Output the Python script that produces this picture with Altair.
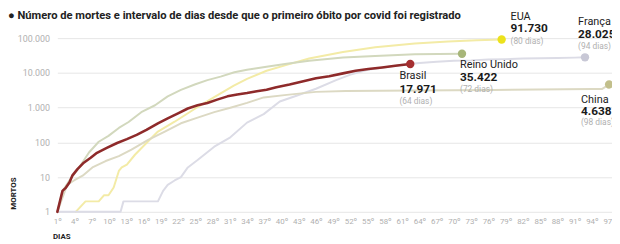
import altair as alt
import pandas as pd

# ---------------- data ----------------
paises = ["Brasil", "EUA", "Reino Unido", "França", "China"]
valores_rotulo = ["17.971", "91.730", "35.422", "28.025", "4.638"]
dias_rotulo = ["(64 dias)", "(80 dias)", "(72 dias)", "(94 dias)", "(98 dias)"]

brasil_dias = [1, 1.9, 2.5, 3.1, 3.6, 4.5, 5.6, 6.8, 7.9, 9.6, 11.4, 13.1, 14.8, 16.5, 18.5,
               20.2, 22, 23.7, 25.4, 27.1, 28.8, 30.6, 32.3, 34, 35.7, 37.4, 39.1, 41.4, 43.8,
               46, 48.3, 50.7, 52.9, 55.1, 57.5, 59.8, 62.4]
brasil_mortes = [1, 4, 5, 7, 11, 17, 26, 36, 50, 69, 96, 124, 164, 228, 353,
                 490, 680, 943, 1170, 1360, 1700, 2110, 2400, 2620, 2980, 3270, 3870, 4620, 5740,
                 6980, 7960, 9680, 11560, 12910, 14330, 16030, 17971]

eua_dias = [4.2, 5.9, 8.2, 9.1, 9.9, 10.8, 11.7, 12.2, 13.1, 14.5, 16.2, 18.5, 21.4, 24.8,
            28.3, 31.7, 34, 37.4, 40.9, 44.8, 50.7, 56.3, 63.2, 69, 74, 78.3]
eua_mortes = [1, 2, 2, 3, 3, 5, 15, 19, 23, 44, 85, 205, 393, 900,
              2000, 4300, 6700, 11500, 17000, 26000, 40000, 55000, 70000, 80000, 87000, 91730]

uk_dias = [1, 1.9, 3.1, 4.8, 6.5, 8.2, 9.9, 11.7, 13.4, 15.6, 18, 20.2, 22.5, 24.9, 27.1,
           29.4, 31.8, 34, 37.4, 40.9, 44.8, 50.7, 56.3, 63.2, 71.4]
uk_mortes = [1, 4, 8, 19, 51, 104, 154, 260, 385, 740, 1170, 2110, 3230, 4620, 6200,
             7800, 10470, 12330, 15000, 18250, 22200, 27900, 30800, 34400, 35422]

franca_dias = [1, 12, 12.5, 18.5, 19.4, 20.2, 21.4, 22.5, 23.7, 25.4, 28.3, 31.1, 34, 36.9,
               39.7, 42.6, 46, 49.5, 52, 55, 58, 61, 64, 67, 70, 73, 76, 79, 82, 85, 88, 91, 92.8]
franca_mortes = [1, 1, 2, 2, 4, 6, 8, 10, 19, 31, 75, 140, 370, 650,
                 1500, 2200, 3500, 6200, 8900, 12200, 14400, 17200, 19300, 20800, 22200, 22900,
                 24400, 24900, 25800, 26300, 27000, 27500, 28025]

china_dias = [1, 2.7, 3.9, 5.4, 7.1, 9.4, 11.7, 13.9, 16.8, 19.7, 22.5, 25.4, 28.3, 31.1, 34,
              36.9, 40.9, 46, 51.2, 63.2, 76.9, 94.1, 95.8, 97]
china_mortes = [1, 6, 8, 11, 19, 29, 40, 62, 118, 204, 354, 517, 740, 996, 1370,
                1970, 2330, 2840, 3000, 3130, 3230, 3420, 3450, 4638]

dias_eixo = list(range(1, 98, 3))
mortes_eixo = [1, 10, 100, 1000, 10000, 100000]

titulo = "● Número de mortes e intervalo de dias desde que o primeiro óbito por covid foi registrado"

# ---------------- tables ----------------
series = {
    "Brasil": (brasil_dias, brasil_mortes),
    "EUA": (eua_dias, eua_mortes),
    "Reino Unido": (uk_dias, uk_mortes),
    "França": (franca_dias, franca_mortes),
    "China": (china_dias, china_mortes),
}
rows = []
for nome, (dd, mm) in series.items():
    for d, m in zip(dd, mm):
        rows.append({"pais": nome, "dia": d, "mortes": m})
df = pd.DataFrame(rows)

ends = pd.DataFrame({
    "pais": paises,
    "dia": [series[p][0][-1] for p in paises],
    "mortes": [series[p][1][-1] for p in paises],
    "valor": valores_rotulo,
    "dias": dias_rotulo,
})

# ---------------- styles ----------------
cor_linha = ["#8e2a2a", "#f3eba6", "#d2d8bd", "#dcdce6", "#dcd9c3"]
cor_ponto = ["#a52f30", "#ece21c", "#a7b679", "#c8c8d6", "#c2bf8b"]
FONT = "Roboto"

xscale = alt.Scale(domain=[1, 97.5], nice=False, zero=False)
yscale = alt.Scale(type="log", domain=[1, 100000], nice=False)

x_axis = alt.Axis(values=dias_eixo, labelExpr="datum.value + 'º'", grid=False, ticks=False,
                  domain=False, labelFontSize=8, labelColor="#b0b0b0", labelPadding=6,
                  labelFlush=False, labelOverlap=False, title="DIAS", titleFontSize=8,
                  titleFontWeight="bold", titleColor="#222222", titleAlign="left",
                  titleAnchor="start", titleX=-5, titleY=27, titleBaseline="alphabetic")
y_axis = alt.Axis(values=mortes_eixo,
                  labelExpr="replace(format(datum.value, ','), ',', '.')",
                  grid=True, gridColor="#e6e6e6", gridWidth=1, ticks=False, domain=False,
                  labelFontSize=9, labelColor="#b0b0b0", labelPadding=8,
                  title="MORTOS", titleFontSize=8, titleFontWeight="bold", titleColor="#222222",
                  titleAngle=270, titleX=-44, titleY=157, titleAlign="center",
                  titleBaseline="middle")

X = alt.X("dia:Q", scale=xscale, axis=x_axis)
Y = alt.Y("mortes:Q", scale=yscale, axis=y_axis)

pale = alt.Chart(df).transform_filter(alt.datum.pais != "Brasil").mark_line(
    strokeWidth=2, strokeCap="round", strokeJoin="round"
).encode(
    x=X, y=Y,
    stroke=alt.Stroke("pais:N", scale=alt.Scale(domain=paises, range=cor_linha), legend=None),
    detail="pais:N",
)

brasil = alt.Chart(df).transform_filter(alt.datum.pais == "Brasil").mark_line(
    strokeWidth=2.6, color=cor_linha[0], strokeCap="round", strokeJoin="round"
).encode(x=X, y=Y)

pontos = alt.Chart(ends).mark_circle(size=72, opacity=1).encode(
    x=X, y=Y,
    fill=alt.Fill("pais:N", scale=alt.Scale(domain=paises, range=cor_ponto), legend=None),
)

# label offsets: (dx, dy name, dy value, dy days)
offs = {
    "EUA": (9, -20, -7.5, 4.5),
    "França": (-7, -32.5, -20, -8),
    "Reino Unido": (-2, 14, 27.5, 39),
    "Brasil": (-11, 15, 29, 40.5),
    "China": (-28.5, 18.5, 31, 41),
}

textos = []
for p in paises:
    dx, dyn, dyv, dyd = offs[p]
    base = alt.Chart(ends).transform_filter(alt.datum.pais == p)
    textos.append(base.mark_text(align="left", baseline="alphabetic", dx=dx, dy=dyn,
                                 fontSize=11, color="#222222", font=FONT)
                  .encode(x=X, y=Y, text="pais:N"))
    textos.append(base.mark_text(align="left", baseline="alphabetic", dx=dx, dy=dyv,
                                 fontSize=12, fontWeight="bold", color="#1a1a1a", font=FONT)
                  .encode(x=X, y=Y, text="valor:N"))
    textos.append(base.mark_text(align="left", baseline="alphabetic", dx=dx, dy=dyd,
                                 fontSize=8.5, color="#b0b0b0", font=FONT)
                  .encode(x=X, y=Y, text="dias:N"))

titulo_txt = alt.Chart(pd.DataFrame({"t": [titulo]})).mark_text(
    align="left", baseline="alphabetic", fontSize=11.3, fontWeight="bold",
    color="#222222", font=FONT
).encode(x=alt.value(-50), y=alt.value(-19.5), text="t:N")

chart = alt.layer(pale, brasil, pontos, *textos, titulo_txt).properties(
    width=562,
    height=176,
    autosize=alt.AutoSizeParams(type="none"),
    padding={"left": 50, "top": 29, "right": 0, "bottom": 28},
).configure(font=FONT).configure_view(stroke=None)

chart.save("out.html", embed_options={"renderer": "svg", "actions": False})
